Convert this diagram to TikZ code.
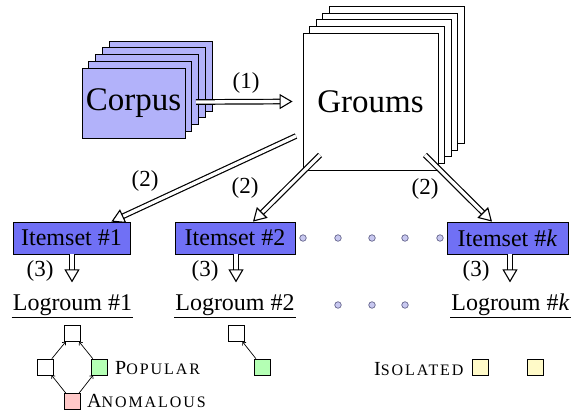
\documentclass[tikz,border=0pt]{standalone}
\usepackage{fontspec}
\setmainfont{Liberation Serif}
\newfontfamily\timesface{Liberation Serif}
\usetikzlibrary{arrows.meta,calc}

\definecolor{corpusfill}{RGB}{178,178,250}
\definecolor{itemfill}{RGB}{112,112,245}
\definecolor{popfill}{RGB}{180,255,180}
\definecolor{anomfill}{RGB}{255,200,200}
\definecolor{isofill}{RGB}{255,250,200}
\definecolor{dotfill}{RGB}{200,200,240}
\definecolor{dotdraw}{RGB}{100,100,140}

% small capitals built from two sizes of the upright face
\newcommand{\smallcapsword}[2]{{\timesface\fontsize{20}{22}\selectfont #1}{\timesface\fontsize{16}{18}\selectfont\addfontfeatures{LetterSpace=12}#2}}

\begin{document}
\begin{tikzpicture}[x=1pt,y=-1pt,
  bigtxt/.style={font=\timesface\fontsize{33}{38}\selectfont},
  txt/.style={font=\timesface\fontsize{24}{28}\selectfont},
  lbl/.style={font=\timesface\fontsize{23}{26}\selectfont, inner sep=0pt},
  page/.style={draw=black, line width=0.8pt},
  itembox/.style={draw=black, line width=0.8pt, fill=itemfill, minimum height=32pt,
    inner sep=0pt, font=\timesface\fontsize{24}{28}\selectfont},
  flow/.style={double=white, double distance=3.3pt, line width=1.2pt,
    -{Triangle[open, length=13pt, width=15pt, line width=1.1pt]}},
  ring/.style={circle, draw=dotdraw, fill=dotfill, line width=0.7pt, minimum size=6.5pt, inner sep=0pt},
  sq/.style={draw=black, line width=0.7pt, minimum size=16pt, inner sep=0pt},
  link/.style={line width=0.7pt, -{To[length=3pt, width=5pt]}},
]
\useasboundingbox (0,0) rectangle (571,417);

% stacked corpus pages
\foreach \i in {4,3,2,1}
  \draw[page, fill=corpusfill] (82+6.75*\i, 68-6.75*\i) rectangle ++(103,70);
\node[page, fill=corpusfill, minimum width=103pt, minimum height=70pt, inner sep=0pt, bigtxt]
  (corpus) at (133.5,103) {Corpus};

% stacked grouped logs
\foreach \i in {4,3,2,1}
  \draw[page, fill=white] (303+6.6*\i, 33-6.6*\i) rectangle ++(135,137);
\node[page, fill=white, minimum width=135pt, minimum height=137pt, inner sep=0pt, bigtxt]
  (groums) at (370.5,101.5) {Groums};

% step (1)
\coordinate (c1) at (196,102);
\draw[flow] (c1) -- ([xshift=-10pt]groums.west);
\node[lbl] (l1) at (246,83) {(1)};

% itemsets
\node[itembox, minimum width=117pt] (item1) at (71.5,238) {Itemset \#1};
\node[itembox, minimum width=120pt] (item2) at (235,238) {Itemset \#2};
\node[itembox, minimum width=121pt] (itemk) at (507.5,238) {Itemset \#\textit{k}};

% step (2)
\coordinate (g1) at (296,136);
\coordinate (g2) at (320,155);
\coordinate (g3) at (425,155);
\draw[flow] (g1) -- ([xshift=-19pt]item1.north east);
\draw[flow] (g2) -- ([xshift=18pt]item2.north);
\draw[flow] (g3) -- ([xshift=-15.5pt]itemk.north);
\node[lbl] (l2a) at (145,181) {(2)};
\node[lbl] (l2b) at (245,188) {(2)};
\node[lbl] (l2c) at (425,189) {(2)};

% elided itemsets
\foreach \x [count=\n] in {303,338,372,405,440}
  \node[ring] (ra\n) at (\x,238) {};

% logroums
\node[txt, anchor=base, inner sep=0pt] (log1) at (72.5,310) {Logroum \#1};
\node[txt, anchor=base, inner sep=0pt] (log2) at (235,310) {Logroum \#2};
\node[txt, anchor=base, inner sep=0pt] (logk) at (510.5,310) {Logroum \#\textit{k}};
\foreach \n in {log1,log2,logk}
  \draw[line width=0.8pt] ([yshift=-7pt,xshift=-1pt]\n.base west) -- ([yshift=-7pt,xshift=1pt]\n.base east);
\foreach \x [count=\n] in {338,372,405}
  \node[ring] (rb\n) at (\x,305) {};

% step (3)
\draw[flow] ([xshift=0.5pt]item1.south) -- ++(0,28);
\draw[flow] ([xshift=1pt]item2.south) -- ++(0,28);
\draw[flow] ([xshift=2.5pt]itemk.south) -- ++(0,28);
\node[lbl] (l3a) at (40,271) {(3)};
\node[lbl] (l3b) at (205,271) {(3)};
\node[lbl] (l3c) at (476,271) {(3)};

% first logroum graph
\node[sq, fill=white] (top) at (72.5,333.5) {};
\node[sq, fill=white] (mid) at (45,367) {};
\node[sq, fill=popfill] (pop) at (99.5,367) {};
\node[sq, fill=anomfill] (anom) at (72.5,401.5) {};
\draw[link] (anom) -- (mid);
\draw[link] (anom) -- (pop);
\draw[link] (mid) -- (top);
\draw[link] (pop) -- (top);
\node[anchor=base west, inner sep=0pt] (poplbl) at (115,374) {\smallcapsword{P}{OPULAR}};
\node[anchor=base west, inner sep=0pt] (anomlbl) at (87,407) {\smallcapsword{A}{NOMALOUS}};

% second logroum graph
\node[sq, fill=white] (top2) at (236,333.5) {};
\node[sq, fill=popfill] (pop2) at (262.5,367) {};
\draw[link] (pop2) -- (top2);

% isolated nodes
\node[anchor=base west, inner sep=0pt] (isolbl) at (374,375) {\smallcapsword{I}{SOLATED}};
\node[sq, fill=isofill] (iso1) at (480,367.5) {};
\node[sq, fill=isofill] (iso2) at (535,367.5) {};
\end{tikzpicture}
\end{document}
